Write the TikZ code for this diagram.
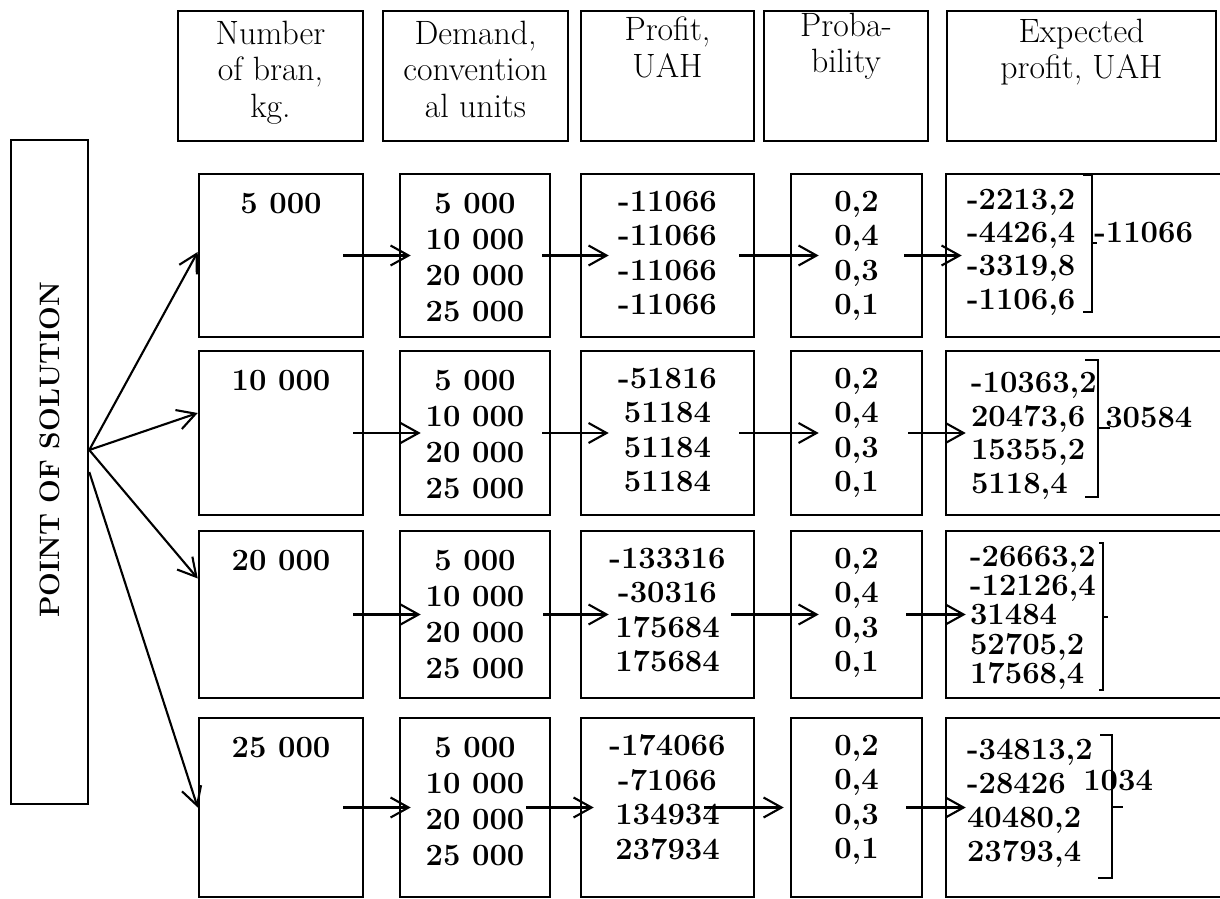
\documentclass[tikz,border=0pt]{standalone}
\usetikzlibrary{arrows.meta,positioning}
\tikzset{
  box/.style={draw,line width=1.8pt,inner sep=0pt},
  head/.style={font=\fontsize{24}{26}\selectfont,align=center,inner sep=0pt},
  num/.style={font=\fontsize{22}{#1}\selectfont\bfseries,align=center,inner sep=0pt},
  num/.default=25.6,
  val/.style={font=\fontsize{22}{#1}\selectfont\bfseries,align=left,inner sep=0pt},
  sum/.style={font=\fontsize{22}{22}\selectfont\bfseries,inner sep=0pt,anchor=base west},
  brk/.style={line width=1pt},
  arr/.style={->,line width=1.5pt}
}
\begin{document}
\begin{tikzpicture}[x=.25mm,y=-.25mm,>={Straight Barb[length=4.5mm,width=5mm]}]
\useasboundingbox (0,0) rectangle (1220,899);

% heads
\foreach \c/\x/\w/\d/\t in {1/270.5/46.25/2.75/{Number\\of bran,\\kg.},
    2/475.5/46.25/2.75/{Demand,\\convention\\al units},
    3/667.5/43.25/1.75/{Profit,\\UAH},
    4/846/41/0.75/{Proba-\\bility},
    5/1081.5/67.25/2.25/{Expected\\profit, UAH}}
{
    \node[box,minimum width=\w mm,minimum height=32.5mm] (h\c) at (\x,76) {};
    \node[head,below=\d mm of h\c.north] (ht\c) {\t};
}

% point of solution
\node[box,minimum width=19.25mm,minimum height=166mm] (ps) at (49.5,472) {};
\node[font=\fontsize{20}{20}\selectfont\bfseries,rotate=90] (pst) at ([yshift=5.5mm]ps.center) {POINT OF SOLUTION};

% boxes b<row><col>
\foreach \c/\x/\w in {1/281/41,2/475/37.5,3/667.5/43.25,4/856.5/32.75,5/1088/71}
  \foreach \r/\y/\h in {1/255.5/40.75,2/433/41,3/614.5/41.75,4/807.5/44.75}
    \node[box,minimum width=\w mm,minimum height=\h mm] (b\r\c) at (\x,\y) {};

% texts
\foreach \r/\t in {1/{5 000},2/{10 000},3/{20 000},4/{25 000}}
    \node[num,below=5mm of b\r1.north] (t\r1) {\t};
\foreach \r in {1,...,4}
{
    \node[num,below=5mm of b\r2.north] (t\r2) {5 000\\10 000\\20 000\\25 000};
    \node[num=24.5,below=4.5mm of b\r4.north] (t\r4) {0,2\\0,4\\0,3\\0,1};
}
\foreach \r/\t in {1/{-11066\\-11066\\-11066\\-11066},
    2/{-51816\\51184\\51184\\51184},
    3/{-133316\\-30316\\175684\\175684},
    4/{-174066\\-71066\\134934\\237934}}
    \node[num=24.5,below=4.5mm of b\r3.north] (t\r3) {\t};
\foreach \r/\dy/\dx/\s/\t in {1/4/5.5/23.7/{-2213,2\\-4426,4\\-3319,8\\-1106,6},
    2/5.5/6.5/24/{-10363,2\\20473,6\\15355,2\\5118,4},
    3/4/6.25/20.8/{-26663,2\\-12126,4\\31484\\52705,2\\17568,4},
    4/5.5/5.5/24.2/{-34813,2\\-28426\\40480,2\\23793,4}}
    \node[val=\s,below right=\dy mm and \dx mm of b\r5.north west] (t\r5) {\t};

% brackets
\draw[brk] (1083,175)--(1092,175)--(1092,312)--(1083,312) (1092,243)--(1097,243);
\draw[brk] (1085,360)--(1098,360)--(1098,497)--(1085,497) (1098,428)--(1110,428);
\draw[brk] (1099,543)--(1103,543)--(1103,690)--(1099,690) (1103,617)--(1108,617);
\draw[brk] (1100,735)--(1112,735)--(1112,878)--(1098,878) (1112,807)--(1123,807);
\node[sum] (s1) at (1094,243) {-11066};
\node[sum] (s2) at (1105,427) {30584};
\node[sum] (s4) at (1083,790) {1034};

% arrows
\coordinate (o) at ([yshift=5.5mm]ps.east);
\draw[arr] (o) -- ([yshift=.9mm]b11.west);
\draw[arr] (o) -- ([yshift=5mm]b21.west);
\draw[arr] (o) -- ([yshift=9mm]b31.west);
\draw[arr] (ps.east) -- (b41.west);
\foreach \r/\s/\e in {1/-21/12,2/-11/22,3/-11/22,4/-21/12}
    \draw[arr] ([xshift=\s*.25mm]b\r1.east) -- ([xshift=\e*.25mm]b\r2.west);
\foreach \r/\s/\e in {1/-9/29,2/-9/29,3/-8/29,4/-25/14}
    \draw[arr] ([xshift=\s*.25mm]b\r2.east) -- ([xshift=\e*.25mm]b\r3.west);
\foreach \r/\s/\e in {1/-16/29,2/-16/29,3/-24/29,4/-51/-6}
    \draw[arr] ([xshift=\s*.25mm]b\r3.east) -- ([xshift=\e*.25mm]b\r4.west);
\foreach \r/\s/\e in {1/-19/17,2/-15/21,3/-17/21,4/-17/21}
    \draw[arr] ([xshift=\s*.25mm]b\r4.east) -- ([xshift=\e*.25mm]b\r5.west);

\end{tikzpicture}
\end{document}
